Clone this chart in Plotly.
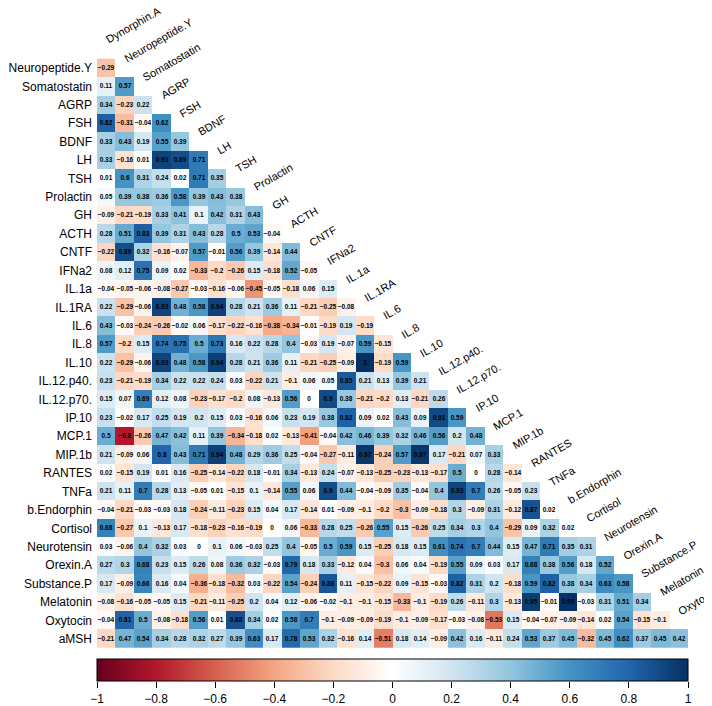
import plotly.graph_objects as go
import numpy as np

# variable names (first one only appears as a column)
variables = ["Dynorphin.A", "Neuropeptide.Y", "Somatostatin", "AGRP", "FSH", "BDNF", "LH",
             "TSH", "Prolactin", "GH", "ACTH", "CNTF", "IFNa2", "IL.1a", "IL.1RA", "IL.6",
             "IL.8", "IL.10", "IL.12.p40.", "IL.12.p70.", "IP.10", "MCP.1", "MIP.1b",
             "RANTES", "TNFa", "b.Endorphin", "Cortisol", "Neurotensin", "Orexin.A",
             "Substance.P", "Melatonin", "Oxytocin", "aMSH"]

# lower triangle of the correlation matrix, one list per row
neuropeptide_y = [-0.29]
somatostatin = [0.11, 0.57]
agrp = [0.34, -0.23, 0.22]
fsh = [0.82, -0.31, -0.04, 0.62]
bdnf = [0.33, 0.43, 0.19, 0.55, 0.39]
lh = [0.33, -0.16, 0.01, 0.93, 0.89, 0.71]
tsh = [0.01, 0.6, 0.31, 0.24, 0.02, 0.71, 0.35]
prolactin = [0.05, 0.39, 0.38, 0.36, 0.58, 0.39, 0.43, 0.38]
gh = [-0.09, -0.21, -0.19, 0.33, 0.41, 0.1, 0.42, 0.31, 0.43]
acth = [0.28, 0.51, 0.83, 0.39, 0.31, 0.43, 0.28, 0.5, 0.53, -0.04]
cntf = [-0.22, 0.89, 0.32, -0.16, -0.07, 0.57, -0.01, 0.56, 0.39, -0.14, 0.44]
ifna2 = [0.08, 0.12, 0.75, 0.09, 0.02, -0.33, -0.2, -0.26, 0.15, -0.18, 0.52, -0.05]
il1a = [-0.04, -0.05, -0.06, -0.08, -0.27, -0.03, -0.16, -0.06, -0.45, -0.05, -0.18, 0.06, 0.15]
il1ra = [0.22, -0.29, -0.06, 0.93, 0.48, 0.58, 0.94, 0.28, 0.21, 0.36, 0.11, -0.21, -0.25, -0.08]
il6 = [0.43, -0.03, -0.24, -0.26, -0.02, 0.06, -0.17, -0.22, -0.16, -0.38, -0.34, -0.01, -0.19,
       0.19, -0.19]
il8 = [0.57, -0.2, 0.15, 0.74, 0.75, 0.5, 0.73, 0.16, 0.22, 0.28, 0.4, -0.03, 0.19, -0.07, 0.59,
       -0.15]
il10 = [0.22, -0.29, -0.06, 0.93, 0.48, 0.58, 0.94, 0.28, 0.21, 0.36, 0.11, -0.21, -0.25, -0.09,
        1, -0.19, 0.59]
il12p40 = [0.23, -0.21, -0.19, 0.34, 0.22, 0.22, 0.24, 0.03, -0.22, 0.21, -0.1, 0.06, 0.05, 0.85,
           0.21, 0.13, 0.39, 0.21]
il12p70 = [0.15, 0.07, 0.69, 0.12, 0.08, -0.23, -0.17, -0.2, 0.08, -0.13, 0.56, 0, 0.9, 0.38,
           -0.21, -0.2, 0.13, -0.21, 0.26]
ip10 = [0.23, -0.02, 0.17, 0.25, 0.19, 0.2, 0.15, 0.03, -0.16, 0.06, 0.23, 0.19, 0.38, 0.82, 0.09,
        0.02, 0.43, 0.09, 0.91, 0.59]
mcp1 = [0.5, -0.8, -0.26, 0.47, 0.42, 0.11, 0.39, -0.34, -0.18, 0.02, -0.13, -0.41, -0.04, 0.42,
        0.46, 0.39, 0.32, 0.46, 0.56, 0.2, 0.48]
mip1b = [0.21, -0.09, 0.06, 0.8, 0.43, 0.71, 0.94, 0.48, 0.29, 0.36, 0.25, -0.04, -0.27, -0.11,
         0.97, -0.24, 0.57, 0.97, 0.17, -0.21, 0.07, 0.33]
rantes = [0.02, -0.15, 0.19, 0.01, 0.16, -0.25, -0.14, -0.22, 0.18, -0.01, 0.34, -0.13, 0.24,
          -0.07, -0.13, -0.25, -0.23, -0.13, -0.17, 0.5, 0, 0.28, -0.14]
tnfa = [0.21, 0.11, 0.7, 0.28, 0.13, -0.05, 0.01, -0.15, 0.1, -0.14, 0.55, 0.06, 0.9, 0.44, -0.04,
        -0.09, 0.35, -0.04, 0.4, 0.93, 0.7, 0.26, -0.05, 0.23]
b_endorphin = [-0.04, -0.21, -0.03, -0.03, 0.18, -0.24, -0.11, -0.23, 0.15, 0.04, 0.17, -0.14,
               0.01, -0.09, -0.1, -0.2, -0.3, -0.09, -0.18, 0.3, -0.09, 0.31, -0.12, 0.87, 0.02]
cortisol = [0.68, -0.27, 0.1, -0.13, 0.17, -0.18, -0.23, -0.16, -0.19, 0, 0.06, -0.33, 0.28, 0.25,
            -0.26, 0.55, 0.15, -0.26, 0.25, 0.34, 0.3, 0.4, -0.29, 0.09, 0.32, 0.02]
neurotensin = [0.03, -0.06, 0.4, 0.32, 0.03, 0, 0.1, 0.06, -0.03, 0.25, 0.4, -0.05, 0.5, 0.59,
               0.15, -0.25, 0.18, 0.15, 0.61, 0.74, 0.7, 0.44, 0.15, 0.47, 0.71, 0.35, 0.31]
orexin_a = [0.27, 0.3, 0.68, 0.23, 0.15, 0.26, 0.08, 0.36, 0.32, -0.03, 0.79, 0.18, 0.33, -0.12,
            0.04, -0.3, 0.06, 0.04, -0.19, 0.55, 0.09, 0.03, 0.17, 0.68, 0.38, 0.56, 0.18, 0.52]
substance_p = [0.17, -0.09, 0.66, 0.16, 0.04, -0.36, -0.18, -0.32, 0.03, -0.22, 0.54, -0.24, 0.86,
               0.11, -0.15, -0.22, 0.09, -0.15, -0.03, 0.82, 0.31, 0.2, -0.18, 0.59, 0.82, 0.38,
               0.34, 0.63, 0.58]
melatonin = [-0.08, -0.16, -0.05, -0.05, 0.15, -0.21, -0.11, -0.25, 0.2, 0.04, 0.12, -0.06, -0.02,
             -0.1, -0.1, -0.15, -0.33, -0.1, -0.19, 0.26, -0.11, 0.3, -0.13, 0.95, -0.01, 0.99,
             -0.03, 0.31, 0.51, 0.34]
oxytocin = [-0.04, 0.81, 0.5, -0.08, -0.18, 0.56, 0.01, 0.88, 0.34, 0.02, 0.58, 0.7, -0.1, -0.09,
            -0.09, -0.19, -0.1, -0.09, -0.17, -0.03, -0.08, -0.53, 0.15, -0.04, -0.07, -0.09,
            -0.14, 0.02, 0.54, -0.15, -0.1]
amsh = [-0.21, 0.47, 0.54, 0.34, 0.28, 0.32, 0.27, 0.39, 0.63, 0.17, 0.78, 0.53, 0.32, -0.16, 0.14,
        -0.51, 0.18, 0.14, -0.09, 0.42, 0.16, -0.11, 0.24, 0.53, 0.37, 0.45, -0.32, 0.45, 0.62,
        0.37, 0.45, 0.42]

colorbar_ticks = [-1, -0.8, -0.6, -0.4, -0.2, 0, 0.2, 0.4, 0.6, 0.8, 1]

lower_rows = [neuropeptide_y, somatostatin, agrp, fsh, bdnf, lh, tsh, prolactin, gh, acth, cntf,
              ifna2, il1a, il1ra, il6, il8, il10, il12p40, il12p70, ip10, mcp1, mip1b, rantes,
              tnfa, b_endorphin, cortisol, neurotensin, orexin_a, substance_p, melatonin,
              oxytocin, amsh]

# corrplot RdBu palette
rdbu = ["#67001F", "#B2182B", "#D6604D", "#F4A582", "#FDDBC7", "#FFFFFF",
        "#D1E5F0", "#92C5DE", "#4393C3", "#2166AC", "#053061"]
colorscale = [[i / 10, c] for i, c in enumerate(rdbu)]

FONT = "Liberation Sans, Arial, sans-serif"


def minus(v):
    return f"{v:g}".replace("-", "\u2212")


n = len(lower_rows)
z = np.full((n, n), np.nan)
text = np.full((n, n), "", dtype=object)
for i, row in enumerate(lower_rows):
    for j, v in enumerate(row):
        z[i, j] = v
        text[i, j] = "<b>" + minus(v) + "</b>"

row_names = variables[1:]
col_names = variables[:-1]

fig = go.Figure()
fig.add_trace(go.Heatmap(
    z=z, x=list(range(n)), y=list(range(n)),
    text=text, texttemplate="%{text}",
    textfont=dict(family=FONT, size=6.5, color="black"),
    colorscale=colorscale, zmin=-1, zmax=1,
    hoverongaps=False,
    colorbar=dict(orientation="h", x=0.5, xanchor="center", y=0.0783, yanchor="top",
                  len=1, lenmode="fraction", thickness=22, xpad=0, ypad=0,
                  outlinewidth=1, outlinecolor="black",
                  tickvals=colorbar_ticks, showticklabels=False, ticks=""),
))
# invisible helper so the colorbar scale axis gets drawn
fig.add_trace(go.Scatter(x=[colorbar_ticks[0], colorbar_ticks[-1]], y=[0, 0], xaxis="x2",
                         mode="markers", marker=dict(opacity=0), hoverinfo="skip",
                         showlegend=False))

# column labels on the diagonal
for c, name in enumerate(col_names):
    fig.add_annotation(x=c - 0.28, y=c - 1.05, xref="x", yref="y", text=name,
                       showarrow=False, textangle=-30, xanchor="left", yanchor="bottom",
                       font=dict(family=FONT, size=11, color="black"))

fig.update_layout(
    width=712, height=706,
    margin=dict(l=89, r=32, t=0, b=0),
    paper_bgcolor="white", plot_bgcolor="white",
    showlegend=False,
    xaxis=dict(range=[-0.5, n - 0.5], showticklabels=False, showgrid=False,
               zeroline=False, ticks="", domain=[0, 1]),
    yaxis=dict(range=[n - 0.5, -3.255], tickvals=list(range(n)), ticktext=row_names,
               showgrid=False, zeroline=False, ticks="", ticklabelstandoff=4,
               tickfont=dict(family=FONT, size=12, color="black"),
               domain=[0.0935, 1]),
    xaxis2=dict(range=[colorbar_ticks[0], colorbar_ticks[-1]], overlaying="x", anchor="free",
                position=0.0472, side="bottom", tickvals=colorbar_ticks,
                ticktext=[minus(v) for v in colorbar_ticks],
                ticks="outside", ticklen=6, tickcolor="black", tickwidth=1,
                showgrid=False, zeroline=False, showline=False, ticklabelstandoff=1,
                tickfont=dict(family=FONT, size=12, color="black")),
)

fig.write_html("out.html")
